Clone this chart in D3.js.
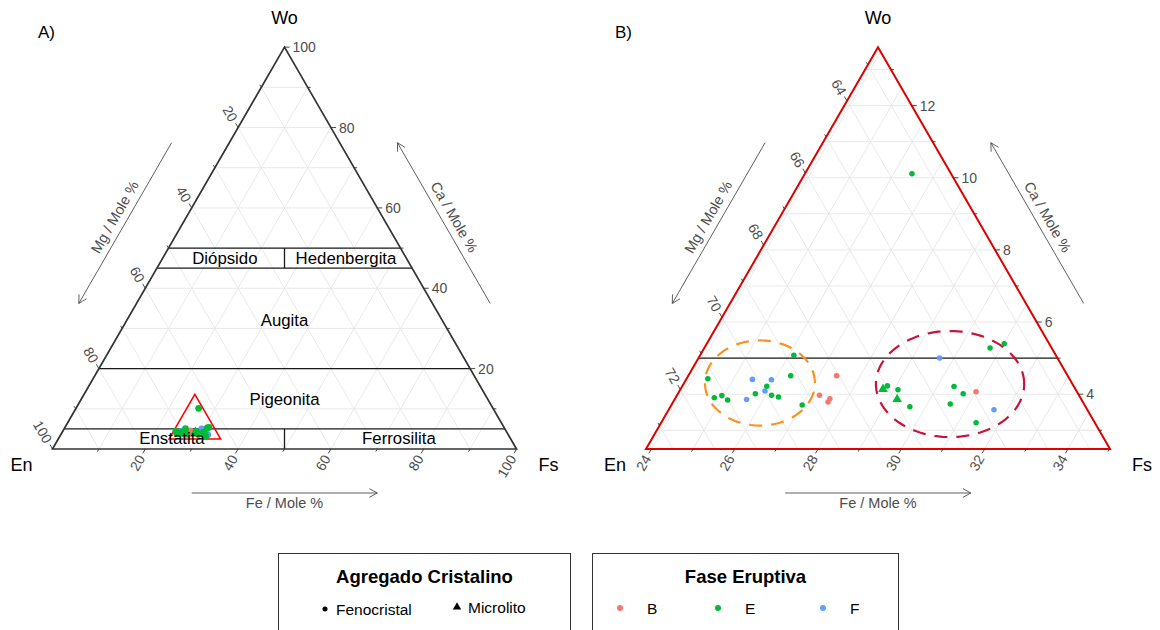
<!DOCTYPE html>
<html>
<head>
<meta charset="utf-8">
<script src="https://cdn.jsdelivr.net/npm/d3@7"></script>
<style>
  body { margin: 0; background: #fff; }
  svg { font-family: "Liberation Sans", Arial, Helvetica, sans-serif; }
</style>
</head>
<body>
<div id="chart"></div>
<script>
// DATA //

const fases = ["B", "E", "F"];
const faseColors = ["#F8766D", "#00BA38", "#619CFF"];
const faseOrder = ["B", "F", "E"];
const agregados = ["Fenocristal", "Microlito"];

// Samples: Fs and Wo in mole %, En is what is left
const sampleFase = [
  "E", "E", "E", "E", "E", "E", "E", "E", "E", "E", "E",
  "E", "E", "E", "E", "E", "E", "E", "E", "E", "E",
  "E", "E",
  "F", "F", "F", "F", "F", "F",
  "B", "B", "B", "B", "B",
];
const sampleAgregado = [
  "Fenocristal", "Fenocristal", "Fenocristal", "Fenocristal", "Fenocristal",
  "Fenocristal", "Fenocristal", "Fenocristal", "Fenocristal", "Fenocristal",
  "Fenocristal", "Fenocristal", "Fenocristal", "Fenocristal", "Fenocristal",
  "Fenocristal", "Fenocristal", "Fenocristal", "Fenocristal", "Fenocristal",
  "Fenocristal",
  "Microlito", "Microlito",
  "Fenocristal", "Fenocristal", "Fenocristal", "Fenocristal", "Fenocristal",
  "Fenocristal",
  "Fenocristal", "Fenocristal", "Fenocristal", "Fenocristal", "Fenocristal",
];
const sampleFs = [
  26.12, 24.38, 24.8, 24.95, 25.15, 25.73, 25.9, 26.14, 26.33, 26.33, 27.01,
  28.79, 29.1, 29.62, 30.4, 30.72, 30.55, 31.43, 30.73, 31.01, 26.44,
  28.73, 29.21,
  25.46, 25.92, 25.92, 25.6, 29.66, 31.68,
  27.43, 27.29, 27.59, 27.59, 31.0,
];
const sampleWo = [
  5.08, 4.43, 3.9, 3.96, 3.84, 4.01, 4.22, 3.97, 3.92, 4.51, 3.7,
  4.23, 4.12, 3.65, 4.21, 4.01, 3.73, 3.21, 5.28, 5.4, 10.11,
  4.14, 3.86,
  4.41, 4.4, 4.09, 3.85, 5.0, 3.57,
  4.51, 3.97, 3.87, 3.78, 4.07,
];

// Pyroxene classification boundaries (Wo %) and En = Fs dividers
const boundaryWo = [5, 20, 45, 50];
const dividerWo = [[0, 5], [45, 50]];
const fieldNames = ["Diópsido", "Hedenbergita", "Augita", "Pigeonita", "Enstatita", "Ferrosilita"];
const fieldFs = [13.4, 39.5, 34, 43.8, 24.5, 73.4];
const fieldWo = [47.5, 47.5, 32, 12.4, 2.5, 2.5];

// Zoom window of panel B (mole %)
const zoomFs = [23.87, 35.01];
const zoomWo = [2.48, 13.62];

// Groups circled in panel B
const ellipseFs = [25.69, 30.27];
const ellipseWo = [4.31, 4.28];
const ellipseRFs = [1.32, 1.78];
const ellipseRWo = [1.18, 1.47];
const ellipseColors = ["#f7931e", "#c8143c"];

// Ticks
const ticksA = [20, 40, 60, 80, 100];
const minorA = [10, 30, 50, 70, 90];
const gridA = d3.range(10, 100, 10);
const ticksBWo = [4, 6, 8, 10, 12];
const ticksBEn = [64, 66, 68, 70, 72];
const ticksBFs = [24, 26, 28, 30, 32, 34];
const minorBWo = [3, 5, 7, 9, 11, 13];
const minorBEn = [63, 65, 67, 69, 71, 73];
const minorBFs = [25, 27, 29, 31, 33, 35];

const samples = sampleFs
  .map((fs, i) => ({
    fs: fs,
    wo: sampleWo[i],
    fase: sampleFase[i],
    agregado: sampleAgregado[i],
  }))
  .sort((a, b) => faseOrder.indexOf(a.fase) - faseOrder.indexOf(b.fase));

// SETUP //

const SQ3 = Math.sqrt(3) / 2;
const svg = d3
  .select("#chart")
  .append("svg")
  .attr("width", 1160)
  .attr("height", 630);

const color = d3.scaleOrdinal().domain(fases).range(faseColors);
const shape = d3
  .scaleOrdinal()
  .domain(agregados)
  .range([d3.symbolCircle, d3.symbolTriangle]);

const line = d3.line();

// Draw one ternary panel
function drawPanel(cfg) {
  const g = svg.append("g");
  const fsMin = cfg.fsLim[0];
  const woMin = cfg.woLim[0];
  const woMax = cfg.woLim[1];
  const fsMax = cfg.fsLim[1];
  const enMin = 100 - fsMin - woMax;
  const enMax = 100 - fsMin - woMin;

  const fsScale = d3.scaleLinear().domain(cfg.fsLim).range([0, cfg.side]);
  const woScale = d3.scaleLinear().domain(cfg.woLim).range([0, cfg.side]);
  const pt = (fs, wo) => [
    cfg.x0 + fsScale(fs) + woScale(wo) / 2,
    cfg.y0 - woScale(wo) * SQ3,
  ];

  const L = pt(fsMin, woMin);
  const R = pt(fsMax, woMin);
  const T = pt(fsMin, woMax);

  // grid lines
  const gridSegs = [];
  cfg.gridWo.forEach((v) => gridSegs.push([pt(fsMin, v), pt(100 - enMin - v, v)]));
  cfg.gridFs.forEach((v) => gridSegs.push([pt(v, woMin), pt(v, 100 - enMin - v)]));
  cfg.gridEn.forEach((v) => gridSegs.push([pt(100 - v - woMin, woMin), pt(fsMin, 100 - v - fsMin)]));
  g.append("g")
    .selectAll("path")
    .data(gridSegs)
    .join("path")
    .attr("d", (d) => line(d))
    .attr("stroke", "#e6e6e6")
    .attr("stroke-width", 0.9)
    .attr("fill", "none");

  // classification lines
  const classSegs = [];
  boundaryWo
    .filter((v) => v > woMin && v < woMax)
    .forEach((v) => classSegs.push([pt(fsMin, v), pt(100 - enMin - v, v)]));
  dividerWo.forEach(([a, b]) => {
    const fa = (100 - a) / 2;
    const fb = (100 - b) / 2;
    if (fa <= enMax && fb >= enMin && a >= woMin && b <= woMax && 100 - fa - a >= enMin) {
      classSegs.push([pt(fa, a), pt(fb, b)]);
    }
  });
  g.append("g")
    .selectAll("path")
    .data(classSegs)
    .join("path")
    .attr("d", (d) => line(d))
    .attr("stroke", "#1a1a1a")
    .attr("stroke-width", 1.3)
    .attr("fill", "none");

  // triangle border
  g.append("path")
    .attr("d", line([L, R, T]) + "Z")
    .attr("fill", "none")
    .attr("stroke", cfg.border)
    .attr("stroke-width", cfg.borderWidth)
    .attr("stroke-linejoin", "miter");

  // ticks and tick labels
  const axes = [
    { major: cfg.ticksWo, minor: cfg.minorWo, at: (v) => pt(100 - enMin - v, v), dir: [1, 0], rot: 0, anchor: "start" },
    { major: cfg.ticksEn, minor: cfg.minorEn, at: (v) => pt(fsMin, 100 - v - fsMin), dir: [-0.5, -SQ3], rot: 60, anchor: "end" },
    { major: cfg.ticksFs, minor: cfg.minorFs, at: (v) => pt(v, woMin), dir: [-0.5, SQ3], rot: -60, anchor: "end" },
  ];
  axes.forEach((ax) => {
    const tickG = g.append("g");
    const all = ax.major.map((v) => ({ v, len: 5 })).concat(ax.minor.map((v) => ({ v, len: 3 })));
    tickG
      .selectAll("path")
      .data(all)
      .join("path")
      .attr("d", (d) => {
        const p = ax.at(d.v);
        return line([p, [p[0] + ax.dir[0] * d.len, p[1] + ax.dir[1] * d.len]]);
      })
      .attr("stroke", "#333")
      .attr("stroke-width", 0.9);
    tickG
      .selectAll("text")
      .data(ax.major)
      .join("text")
      .attr("transform", (v) => {
        const p = ax.at(v);
        return `translate(${p[0] + ax.dir[0] * 8},${p[1] + ax.dir[1] * 8}) rotate(${ax.rot})`;
      })
      .attr("text-anchor", ax.anchor)
      .attr("dominant-baseline", "central")
      .attr("font-size", 14)
      .attr("fill", "#4d4d4d")
      .text((v) => v);
  });

  // arrows along the sides
  const lerp = (a, b, t) => [a[0] + (b[0] - a[0]) * t, a[1] + (b[1] - a[1]) * t];
  const arrows = [
    { from: lerp(L, R, 0.3), to: lerp(L, R, 0.7), n: [0, 1], off: 44, loff: 54, rot: 0, label: "Fe / Mole %" },
    { from: lerp(T, L, 0.3), to: lerp(T, L, 0.7), n: [-SQ3, -0.5], off: 50, loff: 62, rot: -60, label: "Mg / Mole %" },
    { from: lerp(R, T, 0.3), to: lerp(R, T, 0.7), n: [SQ3, -0.5], off: 50, loff: 62, rot: 60, label: "Ca / Mole %" },
  ];
  arrows.forEach((a) => {
    const p0 = [a.from[0] + a.n[0] * a.off, a.from[1] + a.n[1] * a.off];
    const p1 = [a.to[0] + a.n[0] * a.off, a.to[1] + a.n[1] * a.off];
    const ang = Math.atan2(p1[1] - p0[1], p1[0] - p0[0]);
    const head = [-0.5, 0.5].map((s) => [
      p1[0] - 9 * Math.cos(ang + s),
      p1[1] - 9 * Math.sin(ang + s),
    ]);
    g.append("path")
      .attr("d", line([p0, p1]) + "M" + head[0] + "L" + p1 + "L" + head[1])
      .attr("fill", "none")
      .attr("stroke", "#4d4d4d")
      .attr("stroke-width", 0.9);
    const m = lerp(a.from, a.to, 0.5);
    g.append("text")
      .attr("transform", `translate(${m[0] + a.n[0] * a.loff},${m[1] + a.n[1] * a.loff}) rotate(${a.rot})`)
      .attr("text-anchor", "middle")
      .attr("dominant-baseline", "central")
      .attr("font-size", 14.5)
      .attr("fill", "#4d4d4d")
      .text(a.label);
  });

  // vertex titles
  const vtx = [
    { t: "Wo", x: T[0], y: 18 },
    { t: "En", x: L[0] - 31, y: 465 },
    { t: "Fs", x: R[0] + 32, y: 465 },
  ];
  g.selectAll(".vtx")
    .data(vtx)
    .join("text")
    .attr("x", (d) => d.x)
    .attr("y", (d) => d.y)
    .attr("text-anchor", "middle")
    .attr("dominant-baseline", "central")
    .attr("font-size", 18)
    .attr("fill", "#000")
    .text((d) => d.t);

  g.append("text")
    .attr("x", cfg.tagX)
    .attr("y", 32)
    .attr("dominant-baseline", "central")
    .attr("font-size", 17)
    .text(cfg.tag);

  return { g, pt };
}

// PANEL A //

const A = drawPanel({
  x0: 52.5, y0: 449, side: 464,
  fsLim: [0, 100], woLim: [0, 100],
  gridWo: gridA, gridFs: gridA, gridEn: gridA,
  ticksWo: ticksA, ticksEn: ticksA, ticksFs: ticksA,
  minorWo: minorA, minorEn: minorA, minorFs: minorA,
  border: "#333", borderWidth: 1.7,
  tag: "A)", tagX: 38,
});

// zoom window outline
const zl = [
  A.pt(zoomFs[0], zoomWo[0]),
  A.pt(zoomFs[1], zoomWo[0]),
  A.pt(zoomFs[0], zoomWo[1]),
];
A.g.append("path")
  .attr("d", line(zl) + "Z")
  .attr("fill", "none")
  .attr("stroke", "#ff0000")
  .attr("stroke-width", 1.5);

A.g.append("g")
  .selectAll("path")
  .data(samples)
  .join("path")
  .attr("transform", (d) => `translate(${A.pt(d.fs, d.wo)})`)
  .attr("d", (d) => d3.symbol(shape(d.agregado), d.agregado === "Microlito" ? 44 : 36)())
  .attr("fill", (d) => color(d.fase));

A.g.append("g")
  .selectAll("text")
  .data(fieldNames)
  .join("text")
  .attr("transform", (d, i) => `translate(${A.pt(fieldFs[i], fieldWo[i])})`)
  .attr("text-anchor", "middle")
  .attr("dominant-baseline", "central")
  .attr("font-size", 16.8)
  .attr("fill", "#000")
  .text((d) => d);

// PANEL B //

const B = drawPanel({
  x0: 646, y0: 449, side: 464,
  fsLim: zoomFs, woLim: zoomWo,
  gridWo: d3.range(3, 14), gridFs: d3.range(24, 36), gridEn: d3.range(63, 74),
  ticksWo: ticksBWo, ticksEn: ticksBEn, ticksFs: ticksBFs,
  minorWo: minorBWo, minorEn: minorBEn, minorFs: minorBFs,
  border: "#e00000", borderWidth: 2,
  tag: "B)", tagX: 615,
});

// circled groups
const angles = d3.range(0, 2 * Math.PI + 0.01, Math.PI / 60);
B.g.append("g")
  .selectAll("path")
  .data(ellipseFs)
  .join("path")
  .attr("d", (fc, i) =>
    line(
      angles.map((t) => {
        const dw = ellipseRWo[i] * Math.sin(t);
        return B.pt(fc + ellipseRFs[i] * Math.cos(t) - dw / 2, ellipseWo[i] + dw);
      })
    )
  )
  .attr("fill", "none")
  .attr("stroke", (d, i) => ellipseColors[i])
  .attr("stroke-width", 2.2)
  .attr("stroke-dasharray", "13,9");

B.g.append("g")
  .selectAll("path")
  .data(samples)
  .join("path")
  .attr("transform", (d) => `translate(${B.pt(d.fs, d.wo)})`)
  .attr("d", (d) => d3.symbol(shape(d.agregado), d.agregado === "Microlito" ? 40 : 24)())
  .attr("fill", (d) => color(d.fase));

// LEGENDS //

const leg = svg.append("g");
leg.append("rect").attr("x", 278.5).attr("y", 553.5).attr("width", 292).attr("height", 100)
  .attr("fill", "#fff").attr("stroke", "#333").attr("stroke-width", 1);
leg.append("rect").attr("x", 592.5).attr("y", 553.5).attr("width", 306).attr("height", 100)
  .attr("fill", "#fff").attr("stroke", "#333").attr("stroke-width", 1);

leg.append("text").attr("x", 424.5).attr("y", 576).attr("text-anchor", "middle")
  .attr("dominant-baseline", "central").attr("font-size", 18.5).attr("font-weight", "bold")
  .text("Agregado Cristalino");
leg.append("text").attr("x", 745.5).attr("y", 576).attr("text-anchor", "middle")
  .attr("dominant-baseline", "central").attr("font-size", 18.5).attr("font-weight", "bold")
  .text("Fase Eruptiva");

const agrX = [325, 457];
leg.selectAll(".agr")
  .data(agregados)
  .join("path")
  .attr("transform", (d, i) => `translate(${agrX[i]},${i ? 607 : 609})`)
  .attr("d", (d) => d3.symbol(shape(d), d === "Microlito" ? 30 : 20)())
  .attr("fill", "#000");
leg.selectAll(".agrt")
  .data(agregados)
  .join("text")
  .attr("x", (d, i) => agrX[i] + 11)
  .attr("y", (d, i) => (i ? 607 : 609))
  .attr("dominant-baseline", "central")
  .attr("font-size", 15.5)
  .text((d) => d);

const faseX = [620, 718, 823];
leg.selectAll(".fas")
  .data(fases)
  .join("circle")
  .attr("cx", (d, i) => faseX[i])
  .attr("cy", 608)
  .attr("r", 3)
  .attr("fill", (d) => color(d));
leg.selectAll(".fast")
  .data(fases)
  .join("text")
  .attr("x", (d, i) => faseX[i] + 27)
  .attr("y", 608)
  .attr("dominant-baseline", "central")
  .attr("font-size", 15.5)
  .text((d) => d);
</script>
</body>
</html>
